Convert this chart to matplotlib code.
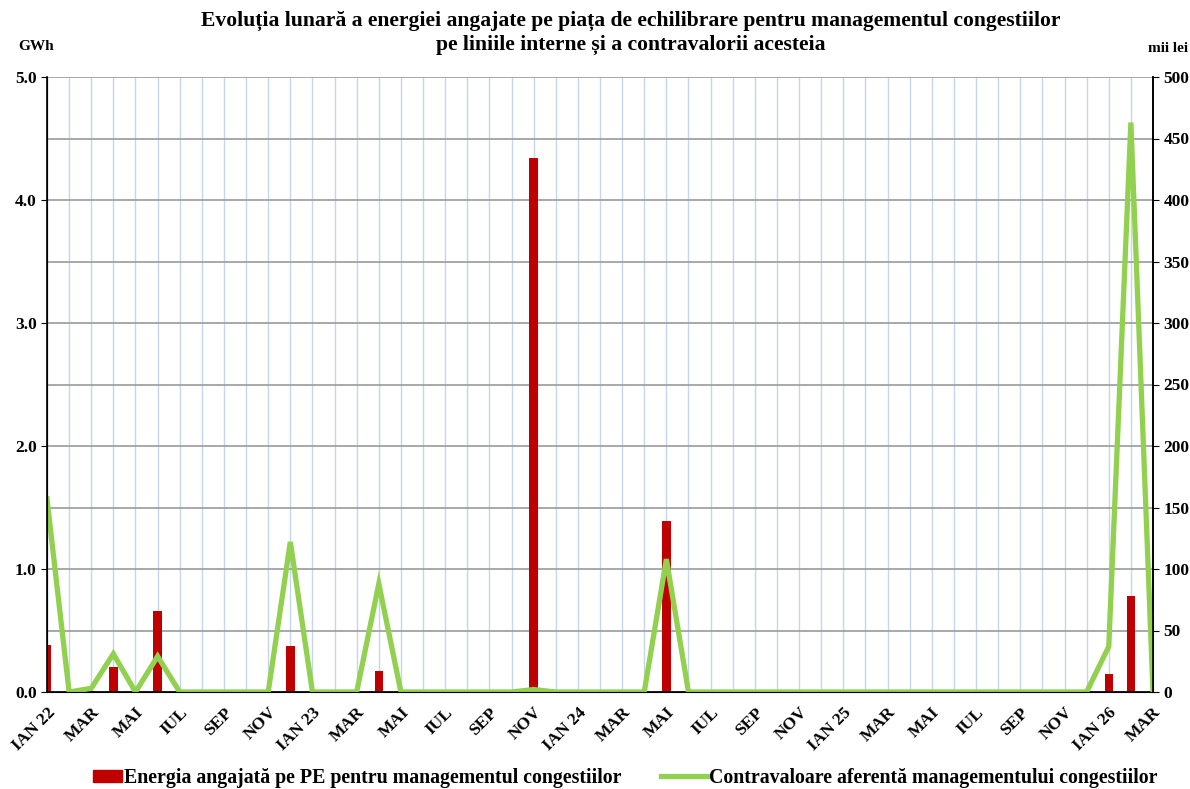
import numpy as np
import matplotlib
matplotlib.use('Agg')
import matplotlib.pyplot as plt
from matplotlib.patches import Patch
from matplotlib.lines import Line2D

plt.rcParams['font.family'] = ['Liberation Serif', 'DejaVu Serif']
plt.rcParams['font.weight'] = 'bold'

# luni IAN 22 .. MAR 26
luni = ['IAN', 'FEB', 'MAR', 'APR', 'MAI', 'IUN', 'IUL', 'AUG', 'SEP', 'OCT', 'NOV', 'DEC']
ani = ['22', '23', '24', '25', '26']
etichete = []
for a in ani:
    for l in luni:
        etichete.append(l + ' ' + a if l == 'IAN' else l)
etichete = etichete[:51]

# GWh
energie = [0.38, 0, 0.01, 0.20, 0, 0.66, 0, 0, 0, 0, 0, 0.37,
           0, 0, 0, 0.17, 0, 0, 0, 0, 0, 0, 4.34, 0,
           0, 0, 0, 0, 1.39, 0, 0, 0, 0, 0, 0, 0,
           0, 0, 0, 0, 0, 0, 0, 0, 0, 0, 0, 0,
           0.15, 0.78, 0]
# mii lei
contravaloare = [157, 0, 3, 31, 0, 29, 0, 0, 0, 0, 0, 122,
                 0, 0, 0, 88, 0, 0, 0, 0, 0, 0, 2, 0,
                 0, 0, 0, 0, 108, 0, 0, 0, 0, 0, 0, 0,
                 0, 0, 0, 0, 0, 0, 0, 0, 0, 0, 0, 0,
                 37, 463, 0]

rosu = '#c00000'
verde = '#92d050'

fig = plt.figure(figsize=(11.9, 7.89), dpi=100)
ax = fig.add_axes([47 / 1190, 1 - 692 / 789, (1153 - 47) / 1190, (692 - 77) / 789])
x = np.arange(len(etichete))

ax.bar(x, energie, width=0.38, color=rosu, zorder=2)
ax.set_xlim(0, len(etichete) - 1)
ax.set_ylim(0, 5)
ax.set_axisbelow(True)

ax.set_yticks(np.arange(0, 5.01, 1.0))
ax.set_yticks(np.arange(0, 5.01, 0.5), minor=True)
ax.set_yticklabels(['%.1f' % v for v in np.arange(0, 5.01, 1.0)], fontsize=12.5, fontweight='bold')
ax.tick_params(axis='y', which='major', length=4, direction='out')
ax.tick_params(axis='y', which='minor', length=0)
ax.grid(axis='y', which='both', color='#9a9a9a', linewidth=1.2)

ax.set_xticks(x)
ax.set_xticklabels([e if i % 2 == 0 else '' for i, e in enumerate(etichete)],
                   rotation=45, ha='right', va='top', rotation_mode='anchor',
                   fontsize=12.5, fontweight='bold')
ax.tick_params(axis='x', which='major', length=0, pad=9)
ax.set_xticks([0, 12, 24, 36, 48], minor=True)
ax.tick_params(axis='x', which='minor', length=5, direction='out')
ax.grid(axis='x', which='major', color='#c5d5ea', linewidth=1)

ax.spines['top'].set_visible(False)
for s in ['left', 'right', 'bottom']:
    ax.spines[s].set_color('black')
    ax.spines[s].set_linewidth(1.2)

ax2 = ax.twinx()
ax2.plot(x, contravaloare, color=verde, linewidth=3.8, solid_joinstyle='miter')
ax2.set_ylim(0, 500)
ax2.set_yticks(np.arange(0, 501, 50))
ax2.set_yticklabels([str(v) for v in range(0, 501, 50)], fontsize=12.5, fontweight='bold')
ax2.tick_params(axis='y', length=4, direction='out')
ax2.spines['top'].set_visible(False)
ax2.spines['right'].set_linewidth(1.2)

fig.text(0.53, 1 - 11 / 789, 'Evoluția lunară a energiei angajate pe piața de echilibrare pentru managementul congestiilor\n'
         'pe liniile interne și a contravalorii acesteia',
         ha='center', va='top', fontsize=15.6, fontweight='bold', linespacing=1.25)
fig.text(18 / 1190, 1 - 46 / 789, 'GWh', fontsize=11, fontweight='bold', va='center')
fig.text(1148 / 1190, 1 - 48 / 789, 'mii lei', fontsize=11, fontweight='bold', va='center')

prop = {'weight': 'bold', 'size': 14.3}
leg1 = fig.legend([Patch(color=rosu)], ['Energia angajată pe PE pentru managementul congestiilor'],
                  loc='center left', bbox_to_anchor=(75 / 1190, 1 - 778 / 789), frameon=False, prop=prop,
                  handlelength=1.45, handleheight=0.6, handletextpad=0.1)
leg2 = fig.legend([Line2D([0], [0], color=verde, linewidth=3.8)],
                  ['Contravaloare aferentă managementului congestiilor'],
                  loc='center left', bbox_to_anchor=(643 / 1190, 1 - 778 / 789), frameon=False, prop=prop,
                  handlelength=2.3, handletextpad=0.1)

fig.savefig('out.png', dpi=100)
